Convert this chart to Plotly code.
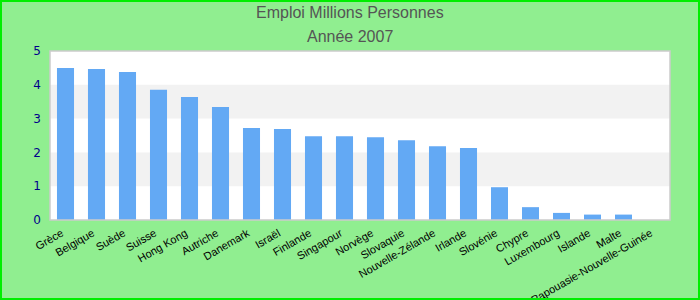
import plotly.graph_objects as go

categories = ["Grèce", "Belgique", "Suède", "Suisse", "Hong Kong", "Autriche", "Danemark",
              "Israël", "Finlande", "Singapour", "Norvège", "Slovaquie", "Nouvelle-Zélande",
              "Irlande", "Slovénie", "Chypre", "Luxembourg", "Islande", "Malte",
              "Papouasie-Nouvelle-Guinée"]
values = [4.50, 4.47, 4.38, 3.85, 3.64, 3.34, 2.72, 2.69, 2.48, 2.48, 2.45, 2.36, 2.18,
          2.13, 0.97, 0.38, 0.21, 0.16, 0.16, 0.0]
y_ticks = [0, 1, 2, 3, 4, 5]
bands = [(1, 2), (3, 4)]
title_lines = ["Emploi Millions Personnes", "Année 2007"]

L, R, T, B = 50, 30, 51, 80
W, H = 700, 300
pw, ph = W - L - R, H - T - B

fig = go.Figure(go.Bar(x=categories, y=values, marker_color="#63a9f4",
                       marker_line_width=0, width=0.55))

shapes = [dict(type="rect", xref="paper", yref="y", x0=0, x1=1, y0=a, y1=b,
               fillcolor="#f2f2f2", line_width=0, layer="below") for a, b in bands]
shapes.append(dict(type="rect", xref="paper", yref="paper", x0=0, x1=1, y0=0, y1=1,
                   line=dict(color="#cccccc", width=1.5), layer="above"))
shapes.append(dict(type="rect", xref="paper", yref="paper",
                   x0=-(L - 1) / pw, x1=(pw + R - 1) / pw,
                   y0=-(B - 1) / ph, y1=1 + (T - 1) / ph,
                   line=dict(color="#00ee00", width=2)))

annotations = []
for i, (line, ypx) in enumerate(zip(title_lines, [13, 36])):
    annotations.append(dict(text=line, xref="paper", yref="paper", x=(W / 2 - L) / pw,
                            y=(T + ph - ypx) / ph, xanchor="center", yanchor="middle",
                            showarrow=False,
                            font=dict(family="Liberation Sans, Arial", size=16, color="#555555")))

fig.update_layout(
    width=W, height=H,
    paper_bgcolor="#90ee90", plot_bgcolor="#ffffff",
    margin=dict(l=L, r=R, t=T, b=B),
    xaxis=dict(tickangle=-30, automargin=False, ticklabelstandoff=4, ticklabelshift=-4,
               tickfont=dict(family="Liberation Sans, Arial", size=11, color="#000000"),
               showgrid=False, ticks="", fixedrange=True),
    yaxis=dict(range=[0, 5], tickvals=y_ticks, showgrid=False, zeroline=False, automargin=False,
               tickfont=dict(family="DejaVu Sans", size=12, color="#00008b"), ticklabelstandoff=8),
    shapes=shapes,
    annotations=annotations,
    bargap=0.45,
)
fig.write_html("out.html")
